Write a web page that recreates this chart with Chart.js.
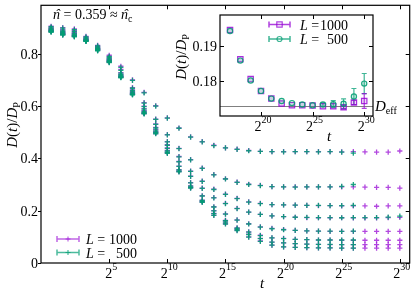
<!DOCTYPE html>
<html>
<head>
<meta charset="utf-8">
<script src="https://cdn.jsdelivr.net/npm/chart.js@4.4.1/dist/chart.umd.min.js"></script>
<style>
  html, body { margin: 0; padding: 0; background: #fff; }
  #wrap { position: relative; width: 415px; height: 291px; }
  #wrap canvas { position: absolute; left: 0; top: 0; }
</style>
</head>
<body>
<div id="wrap">
  <canvas id="main" width="415" height="291"></canvas>
  <canvas id="inset" width="415" height="291"></canvas>
</div>
<script>
// t = 2^e, one point per integer exponent
const exps = [0,1,2,3,4,5,6,7,8,9,10,11,12,13,14,15,16,17,18,19,20,21,22,23,24,25,26,27,28,29,30];

// D(t)/D_p, L = 1000 (eight curves, top to bottom)
const A1000 = [0.905,0.900,0.895,0.866,0.832,0.794,0.752,0.700,0.652,0.601,0.555,0.516,0.482,0.464,0.450,0.440,0.435,0.430,0.427,0.426,0.426,0.426,0.426,0.426,0.426,0.425,0.426,0.425,0.424,0.424,0.428];
const B1000 = [0.900,0.893,0.888,0.862,0.828,0.788,0.740,0.670,0.613,0.550,0.491,0.438,0.395,0.363,0.338,0.322,0.309,0.301,0.297,0.292,0.291,0.291,0.291,0.291,0.291,0.291,0.291,0.290,0.289,0.289,0.286];
const C1000 = [0.896,0.887,0.882,0.858,0.824,0.782,0.728,0.662,0.600,0.532,0.464,0.407,0.351,0.313,0.282,0.263,0.247,0.234,0.228,0.223,0.222,0.221,0.220,0.219,0.219,0.218,0.218,0.218,0.217,0.218,0.218];
const D1000 = [0.893,0.883,0.878,0.855,0.821,0.778,0.722,0.656,0.590,0.518,0.452,0.388,0.332,0.286,0.250,0.228,0.209,0.1946,0.1862,0.1805,0.1771,0.1749,0.1735,0.1730,0.1730,0.1729,0.1727,0.1727,0.1724,0.1738,0.1742];
const E1000 = [0.890,0.880,0.874,0.853,0.819,0.775,0.718,0.652,0.582,0.510,0.440,0.370,0.307,0.257,0.215,0.188,0.165,0.150,0.138,0.132,0.128,0.125,0.123,0.122,0.121,0.121,0.121,0.121,0.121,0.121,0.121];
const F1000 = [0.888,0.877,0.871,0.851,0.817,0.772,0.714,0.648,0.577,0.503,0.430,0.357,0.295,0.240,0.200,0.163,0.134,0.119,0.106,0.096,0.094,0.090,0.089,0.088,0.088,0.087,0.087,0.087,0.087,0.087,0.087];
const G1000 = [0.886,0.875,0.868,0.850,0.815,0.770,0.712,0.646,0.574,0.499,0.424,0.352,0.290,0.236,0.190,0.157,0.130,0.110,0.094,0.080,0.077,0.074,0.072,0.071,0.070,0.070,0.070,0.070,0.070,0.070,0.070];
const H1000 = [0.884,0.873,0.866,0.849,0.813,0.768,0.710,0.645,0.571,0.495,0.420,0.349,0.287,0.233,0.183,0.150,0.125,0.100,0.084,0.068,0.062,0.060,0.059,0.058,0.058,0.057,0.057,0.057,0.057,0.057,0.057];

// D(t)/D_p, L = 500 (runs stop at 2^26, except curve D)
const A500 = [0.903,0.898,0.892,0.864,0.830,0.790,0.748,0.698,0.650,0.600,0.554,0.515,0.481,0.463,0.449,0.440,0.434,0.429,0.427,0.426,0.425,0.426,0.426,0.425,0.426,0.424,0.420];
const B500 = [0.898,0.890,0.885,0.860,0.826,0.785,0.736,0.668,0.611,0.549,0.490,0.437,0.394,0.362,0.337,0.321,0.308,0.300,0.296,0.292,0.291,0.290,0.291,0.291,0.291,0.293,0.300];
const C500 = [0.894,0.885,0.879,0.856,0.822,0.780,0.726,0.660,0.598,0.530,0.463,0.406,0.350,0.312,0.281,0.262,0.246,0.233,0.227,0.223,0.222,0.221,0.220,0.220,0.219,0.219,0.220];
const D500 = [0.891,0.881,0.875,0.853,0.819,0.776,0.720,0.654,0.588,0.516,0.450,0.387,0.331,0.285,0.249,0.227,0.208,0.1943,0.1858,0.1801,0.1771,0.1749,0.1742,0.1736,0.1732,0.1730,0.1732,0.1733,0.1734,0.1755,0.1792];
const E500 = [0.888,0.878,0.871,0.851,0.817,0.773,0.716,0.650,0.580,0.508,0.438,0.369,0.306,0.256,0.214,0.187,0.164,0.149,0.137,0.131,0.127,0.125,0.123,0.122,0.122,0.121,0.122];
const F500 = [0.886,0.875,0.869,0.849,0.815,0.770,0.712,0.646,0.575,0.501,0.428,0.356,0.294,0.239,0.199,0.162,0.133,0.118,0.105,0.096,0.093,0.090,0.089,0.088,0.088,0.088,0.088];
const G500 = [0.884,0.873,0.866,0.848,0.813,0.768,0.710,0.644,0.572,0.498,0.423,0.351,0.289,0.235,0.189,0.156,0.129,0.109,0.093,0.080,0.077,0.074,0.072,0.071,0.071,0.070,0.070];
const H500 = [0.882,0.871,0.864,0.847,0.811,0.766,0.708,0.643,0.570,0.494,0.419,0.348,0.286,0.232,0.182,0.149,0.124,0.099,0.083,0.068,0.062,0.060,0.059,0.058,0.058,0.057,0.057];

// inset: curve D from 2^17 on, with error bars
const insetStart = 17;
const err1000 = [0.0002,0.0002,0.0002,0.0002,0.0002,0.0002,0.0002,0.0002,0.0002,0.0003,0.0004,0.0005,0.0006,0.0021];
const err500 = [0.0002,0.0002,0.0002,0.0002,0.0002,0.0003,0.0003,0.0003,0.0004,0.0005,0.0010,0.0014,0.0023,0.0029];
const dEff = 0.1729;

// ticks
const xTickExps = [5,10,15,20,25,30];
const yTicks = [0,0.2,0.4,0.6,0.8];
const insetXTicks = [20,25,30];
const insetYTicks = [0.18,0.19];

const PURPLE = 'rgba(148,0,211,0.72)';
const TEAL = 'rgba(0,158,115,0.88)';
const SERIF = '"Liberation Serif", "DejaVu Serif", serif';
const f = (size, it) => (it ? 'italic ' : '') + size + 'px ' + SERIF;

function toPts(arr, start) {
  return arr.map((v, i) => ({x: exps[i + (start || 0)], y: v}));
}

function drawRuns(ctx, runs, x, y, align) {
  let w = 0;
  runs.forEach(r => { ctx.font = r.font; w += ctx.measureText(r.t).width; });
  let cx = align === 'center' ? x - w / 2 : align === 'right' ? x - w : x;
  ctx.textAlign = 'left';
  ctx.textBaseline = 'alphabetic';
  runs.forEach(r => {
    ctx.font = r.font;
    const rw = ctx.measureText(r.t).width;
    ctx.fillText(r.t, cx, y + (r.dy || 0));
    if (r.hat) {
      ctx.textAlign = 'center';
      ctx.fillText('\u02c6', cx + rw / 2 + 1, y + (r.dy || 0));
      ctx.textAlign = 'left';
    }
    cx += rw;
  });
}

function powLabel(e) {
  return [{t: '2', font: f(14)}, {t: String(e), font: f(10), dy: -8}];
}

function dpTitle() {
  return [{t: 'D', font: f(15, true)}, {t: '(', font: f(15)}, {t: 't', font: f(15, true)},
          {t: ')/', font: f(15)}, {t: 'D', font: f(15, true)}, {t: 'P', font: f(10), dy: 3}];
}

function legendSample(ctx, x0, x1, y, color, marker) {
  ctx.strokeStyle = color;
  ctx.lineWidth = 1.5;
  ctx.beginPath();
  ctx.moveTo(x0, y); ctx.lineTo(x1, y);
  ctx.moveTo(x0, y - 3); ctx.lineTo(x0, y + 3);
  ctx.moveTo(x1, y - 3); ctx.lineTo(x1, y + 3);
  ctx.stroke();
  const mx = (x0 + x1) / 2;
  ctx.lineWidth = 1.2;
  ctx.beginPath();
  if (marker === 'cross') {
    ctx.moveTo(mx - 2.5, y); ctx.lineTo(mx + 2.5, y);
    ctx.moveTo(mx, y - 2.5); ctx.lineTo(mx, y + 2.5);
  } else if (marker === 'rect') {
    ctx.rect(mx - 2.7, y - 2.7, 5.4, 5.4);
  } else {
    ctx.arc(mx, y, 2.5, 0, Math.PI * 2);
  }
  ctx.stroke();
}

const mainDeco = {
  id: 'mainDeco',
  afterDraw(chart) {
    const {ctx, chartArea: a, scales: {x, y}} = chart;
    ctx.save();
    ctx.strokeStyle = '#000';
    ctx.lineWidth = 1.2;
    ctx.strokeRect(a.left, a.top, a.right - a.left, a.bottom - a.top);
    ctx.lineWidth = 1;
    ctx.beginPath();
    yTicks.forEach(v => {
      const py = Math.round(y.getPixelForValue(v)) + 0.5;
      ctx.moveTo(a.left - 3, py); ctx.lineTo(a.left, py);
      ctx.moveTo(a.right - 4, py); ctx.lineTo(a.right, py);
    });
    xTickExps.forEach(e => {
      const px = Math.round(x.getPixelForValue(e)) + 0.5;
      ctx.moveTo(px, a.bottom); ctx.lineTo(px, a.bottom - 4);
      ctx.moveTo(px, a.top); ctx.lineTo(px, a.top + 4);
    });
    ctx.stroke();

    ctx.fillStyle = '#000';
    yTicks.forEach(v => {
      drawRuns(ctx, [{t: String(v), font: f(14)}], a.left - 3, y.getPixelForValue(v) + 5, 'right');
    });
    xTickExps.forEach(e => {
      drawRuns(ctx, powLabel(e), x.getPixelForValue(e) + 2, 277.5, 'center');
    });
    drawRuns(ctx, [{t: 't', font: f(15, true)}], 262, 288, 'center');

    ctx.save();
    ctx.translate(12, 125);
    ctx.rotate(-Math.PI / 2);
    drawRuns(ctx, dpTitle(), 0, 5, 'center');
    ctx.restore();

    drawRuns(ctx, [{t: 'n', font: f(14, true), hat: true}, {t: ' = 0.359 \u2248 ', font: f(14)},
                   {t: 'n', font: f(14, true), hat: true}, {t: 'c', font: f(10), dy: 3}], 53, 18.5, 'left');

    legendSample(ctx, 57, 79, 239, 'rgba(148,0,211,0.6)', 'cross');
    legendSample(ctx, 57, 79, 252.5, 'rgba(0,158,115,0.7)', 'cross');
    ctx.fillStyle = '#000';
    drawRuns(ctx, [{t: 'L', font: f(14, true)}, {t: ' =', font: f(14)}], 86, 244, 'left');
    drawRuns(ctx, [{t: '1000', font: f(14)}], 137, 244, 'right');
    drawRuns(ctx, [{t: 'L', font: f(14, true)}, {t: ' =', font: f(14)}], 86, 257.5, 'left');
    drawRuns(ctx, [{t: '500', font: f(14)}], 137, 257.5, 'right');
    ctx.restore();
  }
};

const mainSets = [];
[A500, B500, C500, D500, E500, F500, G500, H500].forEach(arr => {
  mainSets.push({label: 'L = 500', data: toPts(arr), pointStyle: 'cross', pointRadius: 2.6,
                 borderColor: TEAL, backgroundColor: TEAL, borderWidth: 1.3, order: 0});
});
[A1000, B1000, C1000, D1000, E1000, F1000, G1000, H1000].forEach(arr => {
  mainSets.push({label: 'L = 1000', data: toPts(arr), pointStyle: 'cross', pointRadius: 2.6,
                 borderColor: PURPLE, backgroundColor: PURPLE, borderWidth: 1.3, order: 1});
});

new Chart(document.getElementById('main'), {
  type: 'scatter',
  data: {datasets: mainSets},
  options: {
    responsive: false,
    animation: false,
    layout: {padding: {left: 41, right: 1, top: 1, bottom: 28}},
    plugins: {legend: {display: false}, tooltip: {enabled: false}},
    scales: {
      x: {type: 'linear', display: false, min: -0.87, max: 30.85},
      y: {display: false, min: 0, max: 0.985}
    }
  },
  plugins: [mainDeco]
});

const insetErr = [err500, err1000];
const insetDeco = {
  id: 'insetDeco',
  beforeDatasetsDraw(chart) {
    const {ctx, chartArea: a, scales: {x, y}} = chart;
    ctx.save();
    ctx.fillStyle = '#fff';
    ctx.fillRect(a.left, a.top, a.right - a.left, a.bottom - a.top);
    const py = Math.round(y.getPixelForValue(dEff)) + 0.5;
    ctx.strokeStyle = '#808080';
    ctx.lineWidth = 1;
    ctx.beginPath();
    ctx.moveTo(a.left, py); ctx.lineTo(a.right, py);
    ctx.stroke();
    // error bars
    chart.data.datasets.forEach((ds, k) => {
      const errs = insetErr[k];
      ctx.strokeStyle = k === 0 ? 'rgba(0,158,115,0.75)' : 'rgba(148,0,211,0.75)';
      ctx.lineWidth = 1.2;
      ctx.beginPath();
      ds.data.forEach((p, i) => {
        const px = x.getPixelForValue(p.x);
        const y0 = y.getPixelForValue(p.y - errs[i]);
        const y1 = y.getPixelForValue(p.y + errs[i]);
        if (y0 - y1 < 3) return;
        ctx.moveTo(px, y0); ctx.lineTo(px, y1);
        ctx.moveTo(px - 2.5, y0); ctx.lineTo(px + 2.5, y0);
        ctx.moveTo(px - 2.5, y1); ctx.lineTo(px + 2.5, y1);
      });
      ctx.stroke();
    });
    ctx.restore();
  },
  afterDraw(chart) {
    const {ctx, chartArea: a, scales: {x, y}} = chart;
    ctx.save();
    ctx.strokeStyle = '#000';
    ctx.lineWidth = 1.2;
    ctx.strokeRect(a.left, a.top, a.right - a.left, a.bottom - a.top);
    ctx.lineWidth = 1;
    ctx.beginPath();
    insetYTicks.forEach(v => {
      const py = Math.round(y.getPixelForValue(v)) + 0.5;
      ctx.moveTo(a.left, py); ctx.lineTo(a.left + 4, py);
      ctx.moveTo(a.right - 4, py); ctx.lineTo(a.right, py);
    });
    insetXTicks.forEach(e => {
      const px = Math.round(x.getPixelForValue(e)) + 0.5;
      ctx.moveTo(px, a.bottom); ctx.lineTo(px, a.bottom - 4);
      ctx.moveTo(px, a.top); ctx.lineTo(px, a.top + 4);
    });
    ctx.stroke();

    ctx.fillStyle = '#000';
    insetYTicks.forEach(v => {
      drawRuns(ctx, [{t: v.toFixed(2), font: f(14)}], a.left - 3, y.getPixelForValue(v) + 5, 'right');
    });
    insetXTicks.forEach(e => {
      drawRuns(ctx, powLabel(e), x.getPixelForValue(e) + 2, 130.5, 'center');
    });
    drawRuns(ctx, [{t: 't', font: f(15, true)}], 329, 141, 'center');
    ctx.save();
    ctx.translate(181, 57);
    ctx.rotate(-Math.PI / 2);
    drawRuns(ctx, dpTitle(), 0, 5, 'center');
    ctx.restore();

    drawRuns(ctx, [{t: 'D', font: f(15, true)}, {t: 'eff', font: f(10), dy: 3}], 375, y.getPixelForValue(dEff) + 5, 'left');

    legendSample(ctx, 269, 290, 24.5, 'rgba(148,0,211,0.75)', 'rect');
    legendSample(ctx, 269, 290, 39, 'rgba(0,158,115,0.75)', 'circle');
    ctx.fillStyle = '#000';
    drawRuns(ctx, [{t: 'L', font: f(14, true)}, {t: ' =', font: f(14)}], 300, 29.5, 'left');
    drawRuns(ctx, [{t: '1000', font: f(14)}], 348, 29.5, 'right');
    drawRuns(ctx, [{t: 'L', font: f(14, true)}, {t: ' =', font: f(14)}], 300, 44, 'left');
    drawRuns(ctx, [{t: '500', font: f(14)}], 348, 44, 'right');
    ctx.restore();
  }
};

new Chart(document.getElementById('inset'), {
  type: 'scatter',
  data: {
    datasets: [
      {label: 'L = 500', data: toPts(D500.slice(insetStart), insetStart), pointStyle: 'circle', pointRadius: 2.6,
       borderColor: TEAL, backgroundColor: 'rgba(0,158,115,0.15)', borderWidth: 1.2, order: 0},
      {label: 'L = 1000', data: toPts(D1000.slice(insetStart), insetStart), pointStyle: 'rect', pointRadius: 3.8,
       borderColor: 'rgba(148,0,211,0.8)', backgroundColor: 'rgba(148,0,211,0.15)', borderWidth: 1.2, order: 1}
    ]
  },
  options: {
    responsive: false,
    animation: false,
    layout: {padding: {left: 220, right: 42, top: 15, bottom: 175}},
    plugins: {legend: {display: false}, tooltip: {enabled: false}},
    scales: {
      x: {type: 'linear', display: false, min: 16.03, max: 30.85},
      y: {display: false, min: 0.1699, max: 0.1989}
    }
  },
  plugins: [insetDeco]
});
</script>
</body>
</html>
